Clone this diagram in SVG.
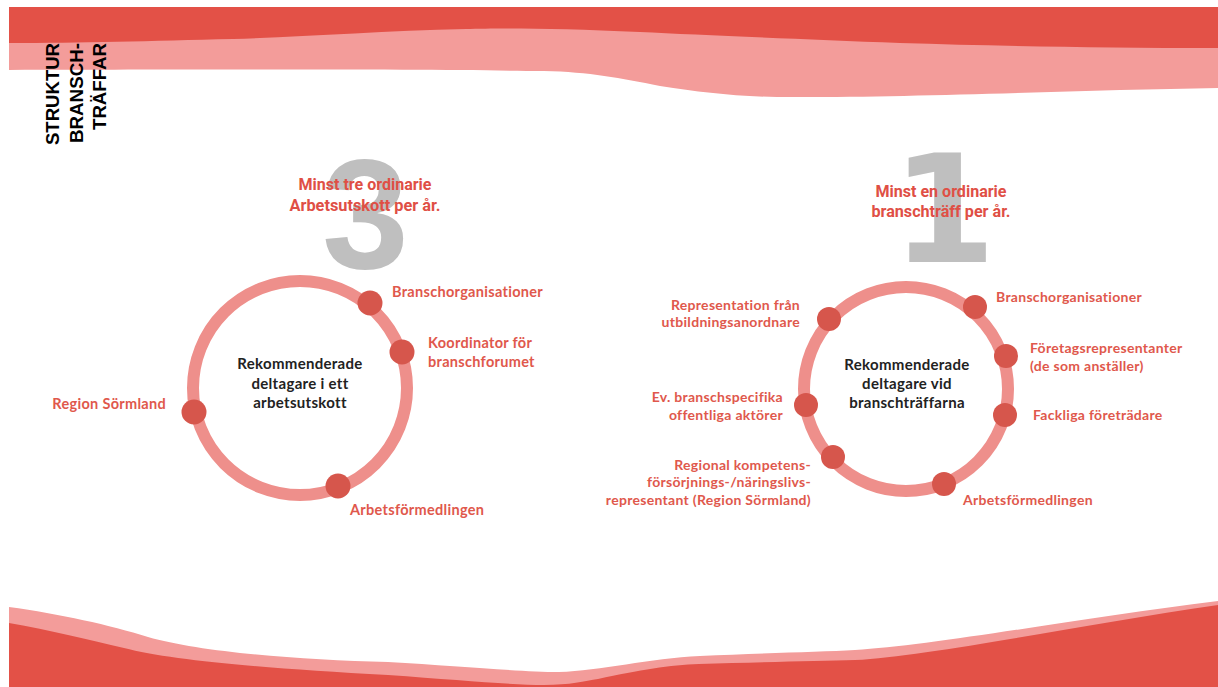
<svg xmlns="http://www.w3.org/2000/svg" width="1218" height="687" viewBox="0 0 1218 687">
<style>
.dark{fill:#e35147}
.light{fill:#f39c9a}
.ring{fill:none;stroke:#ee8f8b;stroke-width:12}
.dot{fill:#d6564c}
.lbl{font-family:Lato,"Open Sans","Liberation Sans",sans-serif;font-weight:700;font-size:14.5px;letter-spacing:0.3px;fill:#e0584c}
.rs{font-size:14px}
.ctr{font-family:Lato,"Open Sans","Liberation Sans",sans-serif;font-weight:700;font-size:15px;letter-spacing:0.3px;fill:#222222;text-anchor:middle}
.head{font-family:Roboto,"Liberation Sans",sans-serif;font-weight:700;font-size:16px;fill:#df4f45;text-anchor:middle}
.big{font-weight:700;fill:#bfbfbf;text-anchor:middle}
.title{font-family:"Liberation Sans",Arial,sans-serif;font-weight:700;font-size:18px;fill:#000;text-anchor:end}
</style>
<rect width="1218" height="687" fill="#ffffff"/>
<g id="top-wave">
<path class="light" d="M9,7 H1218 V88 C1080,90 900,98 777,97 C730,96 700,92 660,86 C620,78 590,72 544,71 C450,70 300,69 9,70 Z"/>
<path class="dark" d="M9,7 H1218 V48 C1100,48 1000,46 900,43 C800,39 700,35 640,32 C560,28 500,28 466,29 C380,31 300,37 233,39 C150,41 80,43 9,43 Z"/>
</g>
<g id="bottom-wave">
<path class="light" d="M9,607 C60,614 110,625 148,637 C200,652 300,660 388,662 C460,666 520,672 559,672 C600,671 650,658 700,656 C760,653 820,652 855,650 C930,646 1080,618 1218,601 V687 H9 Z"/>
<path class="dark" d="M9,623 C50,630 90,640 124,648 C170,660 260,668 388,675 C460,680 510,685 544,685 C570,685 585,681 598,679 C640,670 670,665 699,664 C760,662 820,661 855,660 C930,656 1080,625 1218,605 V687 H9 Z"/>
</g>
<g id="title">
<text class="title" transform="translate(59,43) rotate(-90)" textLength="102" lengthAdjust="spacingAndGlyphs">STRUKTUR</text>
<text class="title" transform="translate(83,43) rotate(-90)" textLength="100" lengthAdjust="spacingAndGlyphs">BRANSCH-</text>
<text class="title" transform="translate(106,43) rotate(-90)" textLength="87" lengthAdjust="spacingAndGlyphs">TRÄFFAR</text>
</g>
<g id="heading-left">
<text class="big" x="365.5" y="268" font-family="'Liberation Sans',Arial,sans-serif" font-size="156">3</text>
<text class="head" x="365" y="190" textLength="133" lengthAdjust="spacingAndGlyphs">Minst tre ordinarie</text>
<text class="head" x="365" y="211" textLength="151" lengthAdjust="spacingAndGlyphs">Arbetsutskott per år.</text>
</g>
<g id="heading-right">
<text class="big" x="944" y="262" font-family="'DejaVu Sans',sans-serif" font-size="150">1</text>
<text class="head" x="941" y="197" textLength="131" lengthAdjust="spacingAndGlyphs">Minst en ordinarie</text>
<text class="head" x="941" y="217" textLength="139" lengthAdjust="spacingAndGlyphs">branschträff per år.</text>
</g>
<g id="connectors">
<circle class="ring" cx="300" cy="388" r="107"/>
<circle class="ring" cx="906" cy="389" r="102"/>
</g>
<g id="center-left">
<text class="ctr" x="300" y="369">Rekommenderade</text>
<text class="ctr" x="300" y="389">deltagare i ett</text>
<text class="ctr" x="300" y="408">arbetsutskott</text>
</g>
<g id="l-branschorganisationer">
<circle class="dot" cx="370" cy="303" r="12.5"/>
<text class="lbl" x="392" y="297">Branschorganisationer</text>
</g>
<g id="l-koordinator">
<circle class="dot" cx="402" cy="352" r="12.5"/>
<text class="lbl" x="428" y="348">Koordinator för</text>
<text class="lbl" x="428" y="367">branschforumet</text>
</g>
<g id="l-region">
<circle class="dot" cx="194" cy="412" r="12.5"/>
<text class="lbl" x="166" y="409" text-anchor="end">Region Sörmland</text>
</g>
<g id="l-arbetsformedlingen">
<circle class="dot" cx="338" cy="486" r="12.5"/>
<text class="lbl" x="350" y="515">Arbetsförmedlingen</text>
</g>
<g id="center-right">
<text class="ctr" x="907" y="370" font-size="14">Rekommenderade</text>
<text class="ctr" x="907" y="389" font-size="14">deltagare vid</text>
<text class="ctr" x="907" y="408" font-size="14">branschträffarna</text>
</g>
<g id="r-branschorganisationer">
<circle class="dot" cx="975" cy="307" r="12"/>
<text class="lbl rs" x="996" y="302">Branschorganisationer</text>
</g>
<g id="r-foretag">
<circle class="dot" cx="1006" cy="356" r="12"/>
<text class="lbl rs" x="1030" y="353">Företagsrepresentanter</text>
<text class="lbl rs" x="1030" y="371">(de som anställer)</text>
</g>
<g id="r-fackliga">
<circle class="dot" cx="1005" cy="415" r="12"/>
<text class="lbl rs" x="1033" y="420">Fackliga företrädare</text>
</g>
<g id="r-arbetsformedlingen">
<circle class="dot" cx="944" cy="484" r="12"/>
<text class="lbl rs" x="963" y="505">Arbetsförmedlingen</text>
</g>
<g id="r-representation">
<circle class="dot" cx="829" cy="319" r="12"/>
<text class="lbl rs" x="800" y="310" text-anchor="end">Representation från</text>
<text class="lbl rs" x="800" y="327" text-anchor="end">utbildningsanordnare</text>
</g>
<g id="r-ev">
<circle class="dot" cx="806" cy="405" r="12"/>
<text class="lbl rs" x="783" y="402" text-anchor="end">Ev. branschspecifika</text>
<text class="lbl rs" x="783" y="420" text-anchor="end">offentliga aktörer</text>
</g>
<g id="r-regional">
<circle class="dot" cx="833" cy="457" r="12"/>
<text class="lbl rs" x="811" y="470" text-anchor="end">Regional kompetens-</text>
<text class="lbl rs" x="811" y="487" text-anchor="end">försörjnings-/näringslivs-</text>
<text class="lbl rs" x="811" y="505" text-anchor="end">representant (Region Sörmland)</text>
</g>
</svg>
